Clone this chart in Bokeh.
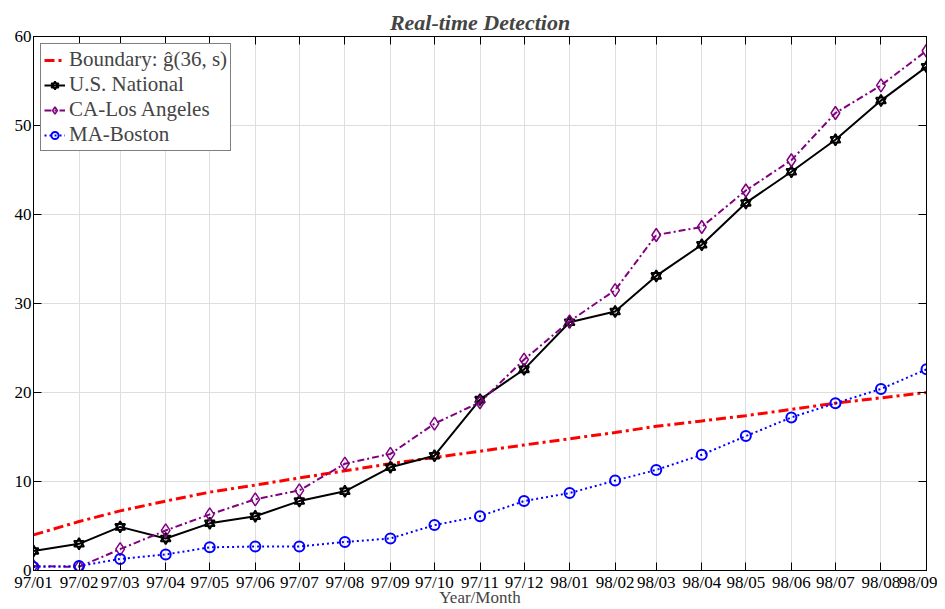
from datetime import datetime
from bokeh.plotting import figure
from bokeh.models import (Range1d, FixedTicker, DatetimeTickFormatter, LinearAxis,
                          DatetimeAxis, Legend, LegendItem, CustomJSTickFormatter)
from bokeh.embed import file_html
from bokeh.resources import INLINE

months = ["97/01", "97/02", "97/03", "97/04", "97/05", "97/06", "97/07", "97/08",
          "97/09", "97/10", "97/11", "97/12", "98/01", "98/02", "98/03", "98/04",
          "98/05", "98/06", "98/07", "98/08", "98/09"]
boundary = [4.0, 5.5, 6.7, 7.8, 8.8, 9.6, 10.4, 11.2, 12.0, 12.7, 13.4, 14.1,
            14.8, 15.5, 16.2, 16.8, 17.4, 18.1, 18.8, 19.4, 20.0]
us_national = [2.2, 3.0, 4.9, 3.6, 5.3, 6.1, 7.8, 8.9, 11.6, 12.9, 19.2, 22.6,
               27.9, 29.1, 33.1, 36.6, 41.3, 44.8, 48.4, 52.8, 56.6]
los_angeles = [0.5, 0.4, 2.4, 4.5, 6.3, 8.0, 9.0, 12.0, 13.1, 16.5, 18.9, 23.7,
               28.0, 31.5, 37.7, 38.6, 42.7, 46.1, 51.4, 54.5, 58.4]
boston = [0.4, 0.5, 1.3, 1.8, 2.6, 2.7, 2.7, 3.2, 3.6, 5.1, 6.1, 7.8, 8.7,
          10.1, 11.3, 13.0, 15.1, 17.2, 18.8, 20.4, 22.6]
y_ticks = [0, 10, 20, 30, 40, 50, 60]

dates = [datetime(1900 + int(m[:2]), int(m[3:]), 1) for m in months]
epoch = datetime(1970, 1, 1)
tick_ms = [(d - epoch).total_seconds() * 1000.0 for d in dates]

FONT = "Liberation Serif"

p = figure(width=937, height=609, x_axis_type="datetime",
           x_range=Range1d(dates[0], dates[-1]), y_range=Range1d(0, 60),
           output_backend="svg", toolbar_location=None,
           min_border_left=33, min_border_right=11, min_border_top=36,
           min_border_bottom=39)

p.title.text = "Real-time Detection"
p.title.text_font = FONT
p.title.text_font_style = "bold italic"
p.title.text_font_size = "22px"
p.title.align = "center"
p.title.standoff = 3

p.outline_line_color = "black"
p.outline_line_width = 1

fmt = DatetimeTickFormatter(milliseconds="%y/%m", seconds="%y/%m", minsec="%y/%m",
                            minutes="%y/%m", hourmin="%y/%m", hours="%y/%m",
                            days="%y/%m", months="%y/%m", years="%y/%m")
blank = CustomJSTickFormatter(code="return '';")
xt = FixedTicker(ticks=tick_ms)
yt = FixedTicker(ticks=y_ticks)

xa = p.xaxis[0]
xa.ticker = xt
xa.formatter = fmt
xa.axis_label = "Year/Month"
ya = p.yaxis[0]
ya.ticker = yt

for ax in (xa, ya):
    ax.major_label_text_font = FONT
    ax.major_label_text_font_size = "17px"
    ax.major_label_text_color = "black"
    ax.axis_label_text_font = FONT
    ax.axis_label_text_font_size = "17px"
    ax.axis_label_text_font_style = "normal"
    ax.axis_label_standoff = -7
    ax.major_label_standoff = 2
    ax.major_tick_in = 8
    ax.major_tick_out = 0
    ax.minor_tick_in = 0
    ax.minor_tick_out = 0
    ax.axis_line_color = "black"
    ax.major_tick_line_color = "black"

top = DatetimeAxis(ticker=xt, formatter=blank, major_label_standoff=0,
                   major_tick_in=8, major_tick_out=0,
                   minor_tick_in=0, minor_tick_out=0, axis_line_color="black")
right = LinearAxis(ticker=yt, formatter=blank, major_label_standoff=0,
                   major_tick_in=8, major_tick_out=0,
                   minor_tick_in=0, minor_tick_out=0, axis_line_color="black")
p.add_layout(top, "above")
p.add_layout(right, "right")

p.xgrid.ticker = xt
p.ygrid.ticker = yt
p.grid.grid_line_color = "#dedede"
p.grid.grid_line_width = 1

r_b = p.line(dates, boundary, line_color="#ff0000", line_width=3, line_dash="10 4 3 4")

r_us = p.line(dates, us_national, line_color="black", line_width=2)
m_us1 = p.scatter(dates, us_national, marker="triangle", size=10, fill_color=None,
                  line_color="black", line_width=1.8)
m_us2 = p.scatter(dates, us_national, marker="inverted_triangle", size=10,
                  fill_color=None, line_color="black", line_width=1.8)

r_la = p.line(dates, los_angeles, line_color="#800080", line_width=2, line_dash="7 3 2 3")
m_la = p.scatter(dates, los_angeles, marker="diamond", size=13, fill_color=None,
                 line_color="#800080", line_width=1.5)

r_bo = p.line(dates, boston, line_color="#0000ff", line_width=2, line_dash="2 3")
m_bo = p.scatter(dates, boston, marker="circle", size=10, fill_color=None,
                 line_color="#0000ff", line_width=2)

legend = Legend(items=[
    LegendItem(label="Boundary: \u011d(36, s)", renderers=[r_b]),
    LegendItem(label="U.S. National", renderers=[r_us, m_us1, m_us2]),
    LegendItem(label="CA-Los Angeles", renderers=[r_la, m_la]),
    LegendItem(label="MA-Boston", renderers=[r_bo, m_bo]),
], location="top_left")
legend.label_text_font = FONT
legend.label_text_font_size = "21px"
legend.border_line_color = "black"
legend.border_line_width = 1
legend.background_fill_alpha = 1
legend.margin = 7
legend.padding = 3
legend.spacing = 0
legend.glyph_width = 21
legend.glyph_height = 18
legend.label_standoff = 4
legend.label_height = 18
p.add_layout(legend)

open("out.html", "w").write(file_html(p, INLINE))
